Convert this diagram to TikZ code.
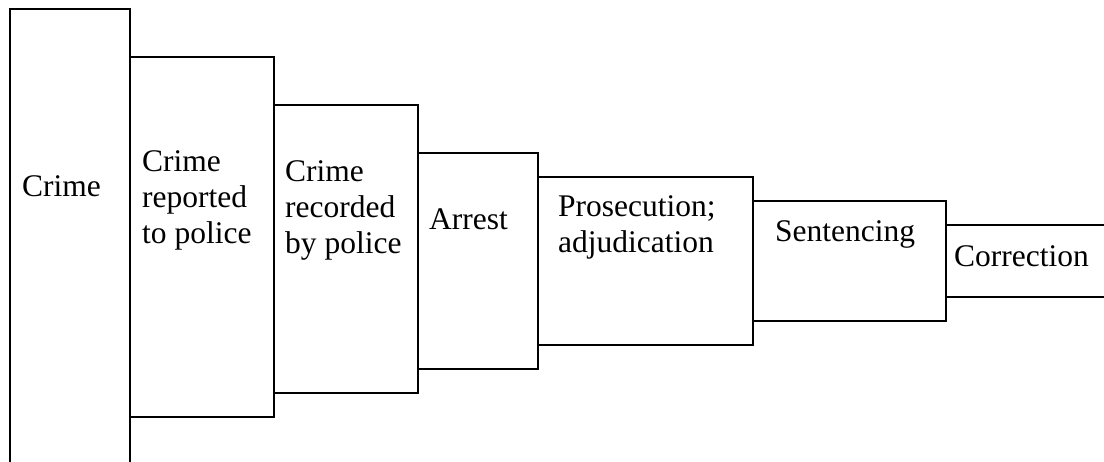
\documentclass[tikz,border=0pt]{standalone}
\usepackage{fontspec}
\setmainfont{Liberation Serif}
\usetikzlibrary{positioning}

\begin{document}
\begin{tikzpicture}[
			x=1pt, y=-1pt,
			stage/.style={rectangle, draw, line width=1.6pt, inner sep=0pt, outer sep=0pt, anchor=north west},
			stagetext/.style={anchor=base west, inner sep=0pt, align=left, font=\fontsize{31.5}{36}\selectfont}
			]
			\useasboundingbox (0,0) rectangle (1104,462);
			\clip (0,0) rectangle (1104,462);
			
			% Stages, widest first
			\node[stage, minimum width=120pt, minimum height=504pt] (crime) at (10,9) {};
			\node[stage, minimum width=144pt, minimum height=360pt] (reported) at (130,57) {};
			\node[stage, minimum width=144pt, minimum height=288pt] (recorded) at (274,105) {};
			\node[stage, minimum width=120pt, minimum height=216pt] (arrest) at (418,153) {};
			\node[stage, minimum width=215pt, minimum height=168pt] (prosecution) at (538,177) {};
			\node[stage, minimum width=193pt, minimum height=120pt] (sentencing) at (753,201) {};
			\node[stage, minimum width=220pt, minimum height=72pt] (correction) at (946,225) {};
			
			% Labels (base = last line)
			\node[stagetext] (crime_txt) at (22,197) {Crime};
			\node[stagetext] (reported_txt) at (142,244) {Crime\\reported\\to police};
			\node[stagetext] (recorded_txt) at (285,254) {Crime\\recorded\\by police};
			\node[stagetext] (arrest_txt) at (429,230) {Arrest};
			\node[stagetext] (prosecution_txt) at (558,253) {Prosecution;\\adjudication};
			\node[stagetext] (sentencing_txt) at (775,242) {Sentencing};
			\node[stagetext] (correction_txt) at (954,267) {Correction};
			
		\end{tikzpicture}
\end{document}
